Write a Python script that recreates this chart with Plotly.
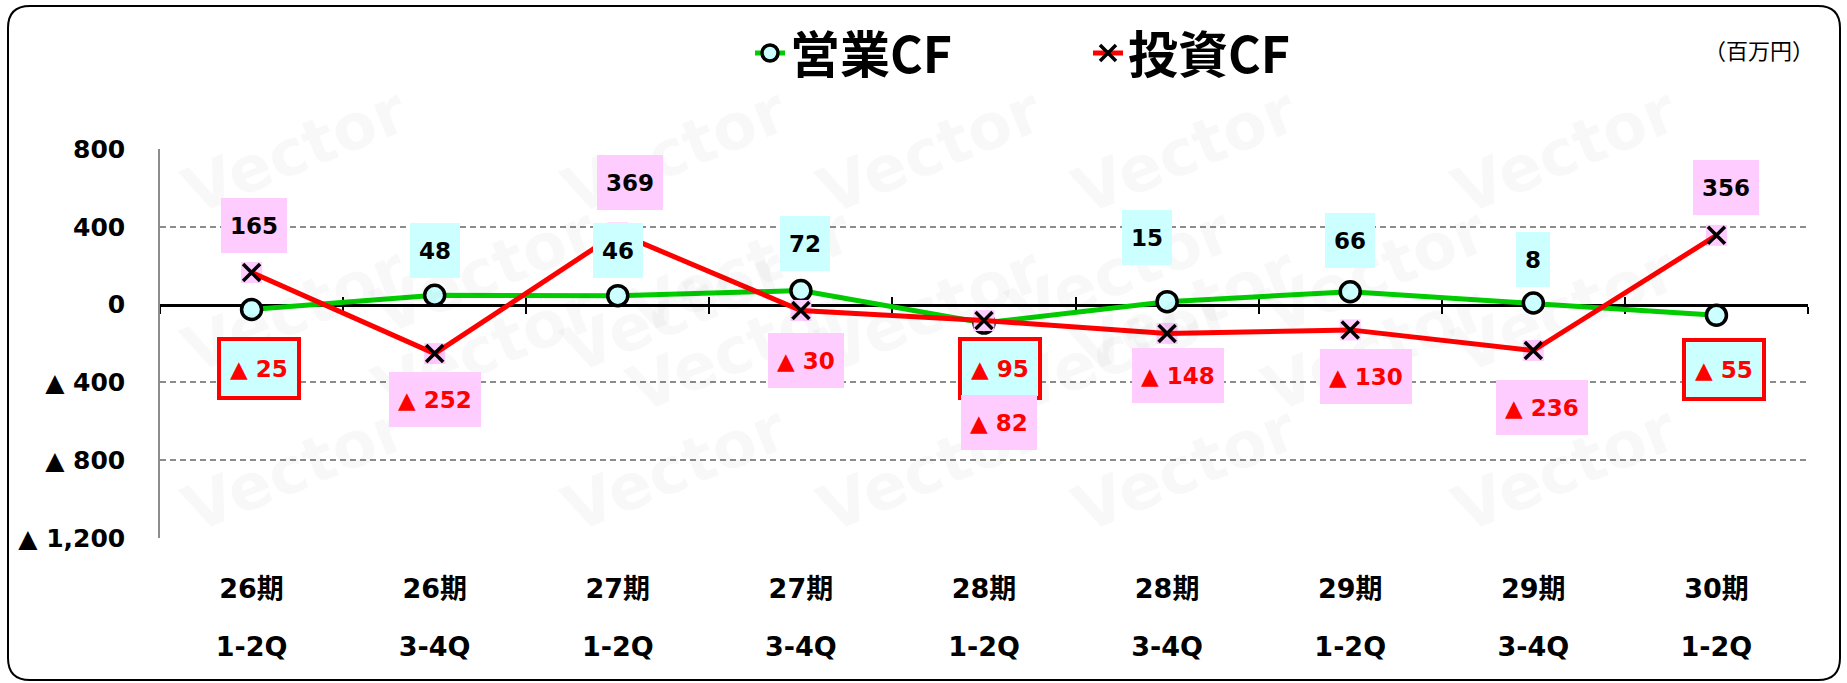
import plotly.graph_objects as go

# ---------------- data ----------------
periods = ["26期", "26期", "27期", "27期", "28期", "28期", "29期", "29期", "30期"]
halves = ["1-2Q", "3-4Q", "1-2Q", "3-4Q", "1-2Q", "3-4Q", "1-2Q", "3-4Q", "1-2Q"]
operating_cf = [-25, 48, 46, 72, -95, 15, 66, 8, -55]
investing_cf = [165, -252, 369, -30, -82, -148, -130, -236, 356]
y_tick_values = [800, 400, 0, -400, -800, -1200]
unit_label = "（百万円）"

# label offsets in px relative to each point (xshift, yshift)
op_label_shift = [(7, -59), (0, 45), (0, 45), (4, 47), (16, -45), (-20, 64), (0, 51), (0, 44), (8, -54)]
inv_label_shift = [(2, 47), (0, -46), (12, 50), (5, -50), (15, -102), (11, -42), (16, -47), (9, -57), (10, 48)]

cats = [f"{p} {h}" for p, h in zip(periods, halves)]


def fmt(v):
    return f"{v:,}" if v >= 0 else f"▲ {abs(v):,}"


# plot-area pixel frame
L, R, T, B = 160, 1808, 149, 538
W, H = 1847, 683
YMIN, YMAX = min(y_tick_values), max(y_tick_values)


def px(x):
    return (x - L) / (R - L)


def py(y):
    return (B - y) / (B - T)


GREEN = "#00CC00"
RED = "#FF0000"
CYAN = "#CCFFFF"
PINK = "#FFCCFF"
NUM_FONT = "DejaVu Sans, Noto Sans CJK JP"

fig = go.Figure()

fig.add_trace(go.Scatter(
    x=cats, y=operating_cf, mode="lines+markers", name="営業CF",
    line=dict(color=GREEN, width=5),
    marker=dict(symbol="circle", size=20, color=CYAN, line=dict(color="black", width=3.5)),
    hoverinfo="skip",
))
fig.add_trace(go.Scatter(
    x=cats, y=investing_cf, mode="markers", showlegend=False,
    marker=dict(symbol="square", size=21, color=PINK, line=dict(width=0)),
    hoverinfo="skip",
))
fig.add_trace(go.Scatter(
    x=cats, y=investing_cf, mode="lines+markers", name="投資CF",
    line=dict(color=RED, width=5),
    marker=dict(symbol="x-thin", size=17, color="black", line=dict(color="black", width=3.5)),
    hoverinfo="skip",
))
# helper traces to realise the overlay axes
for ax in ["x2", "x3", "x4"]:
    fig.add_trace(go.Scatter(
        x=cats, y=operating_cf, xaxis=ax, mode="markers", showlegend=False,
        marker=dict(opacity=0, size=1), hoverinfo="skip",
    ))

common = dict(type="category", categoryorder="array", categoryarray=cats,
              range=[-0.5, len(cats) - 0.5], fixedrange=True, showgrid=False, zeroline=False)
label_font = dict(family=NUM_FONT, size=27, color="black", weight="bold")
zero_pos = (0 - YMIN) / (YMAX - YMIN)

fig.update_layout(
    width=W, height=H, autosize=False,
    margin=dict(l=L, r=W - R, t=T, b=H - B, pad=0),
    paper_bgcolor="white", plot_bgcolor="white",
    showlegend=True,
    legend=dict(
        orientation="h", x=px(750), xanchor="left", y=py(53), yanchor="middle",
        font=dict(family="Noto Sans CJK JP", size=50, color="black", weight="bold"),
        bgcolor="rgba(0,0,0,0)", entrywidth=293, entrywidthmode="pixels",
        itemclick=False, itemdoubleclick=False,
    ),
    xaxis=dict(**common, showline=False, ticks="", tickmode="array", tickvals=cats,
               ticktext=periods, tickfont=label_font, ticklabelstandoff=32),
    xaxis2=dict(**common, overlaying="x", anchor="y", side="bottom", showline=False, ticks="",
                tickmode="array", tickvals=cats, ticktext=halves, tickfont=label_font,
                ticklabelstandoff=90),
    xaxis3=dict(**common, overlaying="x", anchor="free", position=zero_pos,
                showline=True, linecolor="black", linewidth=3, ticks="outside", ticklen=7,
                tickwidth=2, tickcolor="black", tickson="boundaries", showticklabels=False,
                layer="below traces"),
    xaxis4=dict(**common, overlaying="x", anchor="free", position=zero_pos,
                showline=True, linecolor="black", linewidth=3, ticks="inside", ticklen=7,
                tickwidth=2, tickcolor="black", tickson="boundaries", showticklabels=False,
                layer="below traces"),
    yaxis=dict(range=[YMIN, YMAX], tickmode="array",
               tickvals=y_tick_values, ticktext=[fmt(v) for v in y_tick_values],
               showgrid=True, gridcolor="#8c8c8c", gridwidth=1.5, griddash="6px,4px",
               zeroline=False, showline=True, linecolor="#8c8c8c", linewidth=1.5,
               ticks="", ticklabelstandoff=28, fixedrange=True,
               tickfont=dict(family=NUM_FONT, size=25, color="black", weight="bold")),
)

annotations = []
# faint watermark
wm_rows = [70, 190, 310, 430, 550]
for r_i, wy in enumerate(wm_rows):
    offset = 190 if r_i % 2 else 0
    for c_i in range(5):
        wx = 170 + c_i * 380 + offset
        if wx > 1720:
            continue
        annotations.append(dict(
            x=px(wx), y=py(wy), xref="paper", yref="paper", text="Vector", showarrow=False,
            textangle=-22, font=dict(family="DejaVu Sans", size=64, color="rgba(0,0,0,0.028)", weight="bold"),
        ))

# data labels
for i, v in enumerate(operating_cf):
    neg = v < 0
    annotations.append(dict(
        x=cats[i], y=v, xref="x", yref="y", text=fmt(v), showarrow=False,
        xshift=op_label_shift[i][0], yshift=op_label_shift[i][1],
        bgcolor=CYAN, bordercolor=RED if neg else "rgba(0,0,0,0)", borderwidth=4 if neg else 0,
        borderpad=9, height=37,
        font=dict(family=NUM_FONT, size=23, color=RED if neg else "black", weight="bold"),
    ))
for i, v in enumerate(investing_cf):
    neg = v < 0
    annotations.append(dict(
        x=cats[i], y=v, xref="x", yref="y", text=fmt(v), showarrow=False,
        xshift=inv_label_shift[i][0], yshift=inv_label_shift[i][1],
        bgcolor=PINK, borderwidth=0, borderpad=9, height=37,
        font=dict(family=NUM_FONT, size=23, color=RED if neg else "black", weight="bold"),
    ))

annotations.append(dict(
    x=px(1816), y=py(49), xref="paper", yref="paper", xanchor="right", yanchor="middle",
    text=unit_label, showarrow=False,
    font=dict(family="Noto Sans CJK JP", size=22, color="black"),
))
fig.update_layout(annotations=annotations)

# rounded outer frame
x0, y0, x1, y1, rr = 8, 6, 1840, 680, 22
path = (
    f"M {px(x0 + rr)},{py(y0)} L {px(x1 - rr)},{py(y0)} "
    f"Q {px(x1)},{py(y0)} {px(x1)},{py(y0 + rr)} L {px(x1)},{py(y1 - rr)} "
    f"Q {px(x1)},{py(y1)} {px(x1 - rr)},{py(y1)} L {px(x0 + rr)},{py(y1)} "
    f"Q {px(x0)},{py(y1)} {px(x0)},{py(y1 - rr)} L {px(x0)},{py(y0 + rr)} "
    f"Q {px(x0)},{py(y0)} {px(x0 + rr)},{py(y0)} Z"
)
fig.add_shape(type="path", path=path, xref="paper", yref="paper",
              line=dict(color="black", width=2), fillcolor="rgba(0,0,0,0)", layer="above")

fig.write_html("out.html", config={"displayModeBar": False},
               post_script="document.body.style.margin='0';document.body.style.padding='0';")
